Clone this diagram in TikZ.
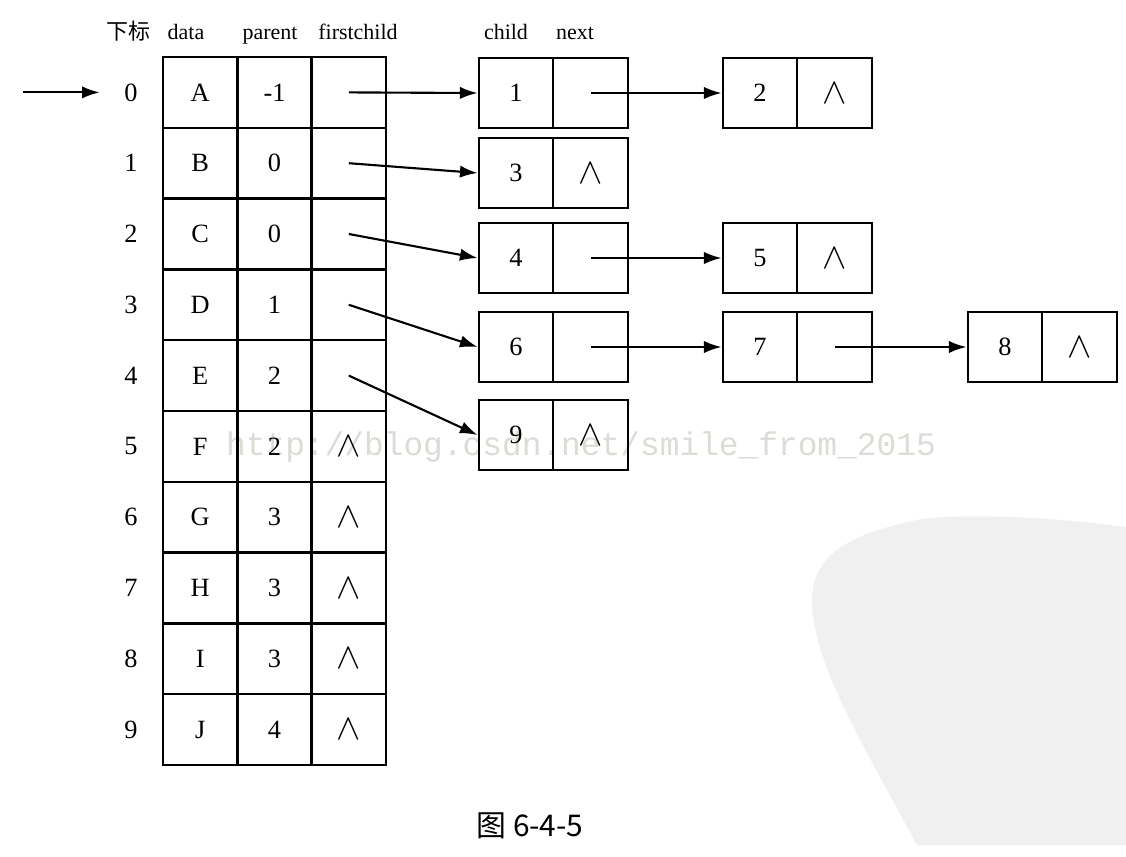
\documentclass[tikz,border=0pt]{standalone}
\usepackage{fontspec}
\setmainfont{Liberation Serif}
\newfontfamily\cjk{Noto Sans CJK SC}
\newfontfamily\wmfont{Liberation Mono}
\usetikzlibrary{arrows.meta}
\definecolor{blobgray}{HTML}{F0F0F0}
\definecolor{wmgray}{RGB}{220,220,214}
\newcommand{\nilsym}{{\fontsize{21}{21}\selectfont$\wedge$}}
\begin{document}
\begin{tikzpicture}[x=0.02cm,y=-0.02cm,
  cellbox/.style={draw, line width=1.4pt, minimum width=1.486cm, minimum height=1.416cm, inner sep=0pt, font=\fontsize{15}{17}\selectfont},
  half/.style={draw, line width=1.4pt, minimum width=1.49cm, minimum height=1.41cm, inner sep=0pt, font=\fontsize{15}{17}\selectfont},
  idx/.style={minimum width=1.24cm, inner sep=0pt, font=\fontsize{15}{17}\selectfont},
  head/.style={inner sep=0pt, anchor=base, font=\fontsize{12.5}{14}\selectfont},
  link/.style={line width=1.2pt, -{Latex[length=10pt,width=7pt]}}]
\useasboundingbox (0,0) rectangle (1126,856);
\fill[white] (0,0) rectangle (1126,856);
% faint seal in the corner
\fill[blobgray] (917,845) -- (1126,845) -- (1126,527)
  .. controls (1060,518) and (960,512) .. (917,520)
  .. controls (860,532) and (812,550) .. (812,600)
  .. controls (812,660) and (860,740) .. (917,845) -- cycle;
% watermark
\node[inner sep=0pt, text=wmgray, font=\wmfont\fontsize{18.7}{20}\selectfont] (wm) at (581,447) {http://blog.csdn.net/smile\_from\_2015};
% headers
\node[head] (hidx) at (128,39) {\cjk 下标};
\node[head] (hdata) at (186,39) {data};
\node[head] (hpar) at (270,39) {parent};
\node[head] (hfc) at (358,39) {firstchild};
\node[head] (hchild) at (506,39) {child};
\node[head] (hnext) at (575,39) {next};
% table
\foreach \i/\d/\p/\f in {0/A/-1/{},1/B/0/{},2/C/0/{},3/D/1/{},4/E/2/{},5/F/2/\nilsym,6/G/3/\nilsym,7/H/3/\nilsym,8/I/3/\nilsym,9/J/4/\nilsym}{
  \node[idx] (i\i) at (131,{92.4+70.8*\i}) {\i};
  \node[cellbox] (d\i) at (200.2,{92.4+70.8*\i}) {\d};
  \node[cellbox] (p\i) at (274.5,{92.4+70.8*\i}) {\p};
  \node[cellbox] (f\i) at (348.8,{92.4+70.8*\i}) {\f};
}
% child nodes
\node[half] (c1) at (516,93) {1};   \node[half] (n1) at (590.5,93) {};
\node[half] (c2) at (760,93) {2};   \node[half] (n2) at (834.5,93) {\nilsym};
\node[half] (c3) at (516,173) {3};  \node[half] (n3) at (590.5,173) {\nilsym};
\node[half] (c4) at (516,258) {4};  \node[half] (n4) at (590.5,258) {};
\node[half] (c5) at (760,258) {5};  \node[half] (n5) at (834.5,258) {\nilsym};
\node[half] (c6) at (516,347) {6};  \node[half] (n6) at (590.5,347) {};
\node[half] (c7) at (760,347) {7};  \node[half] (n7) at (834.5,347) {};
\node[half] (c8) at (1005,347) {8}; \node[half] (n8) at (1079.5,347) {\nilsym};
\node[half] (c9) at (516,435) {9};  \node[half] (n9) at (590.5,435) {\nilsym};
% arrows
\coordinate (entry) at (23,92.4);
\draw[link] (entry) -- (i0);
\draw[link] (f0.center) -- (c1.west);
\draw[link] (f1.center) -- (c3.west);
\draw[link] (f2.center) -- (c4.west);
\draw[link] (f3.center) -- (c6.west);
\draw[link] (f4.center) -- (c9.west);
\draw[link] (n1.center) -- (c2.west);
\draw[link] (n4.center) -- (c5.west);
\draw[link] (n6.center) -- (c7.west);
\draw[link] (n7.center) -- (c8.west);
% caption
\node[inner sep=0pt, font=\cjk\fontsize{17}{19}\selectfont] (cap) at (530,826) {图 6-4-5};
\end{tikzpicture}
\end{document}
